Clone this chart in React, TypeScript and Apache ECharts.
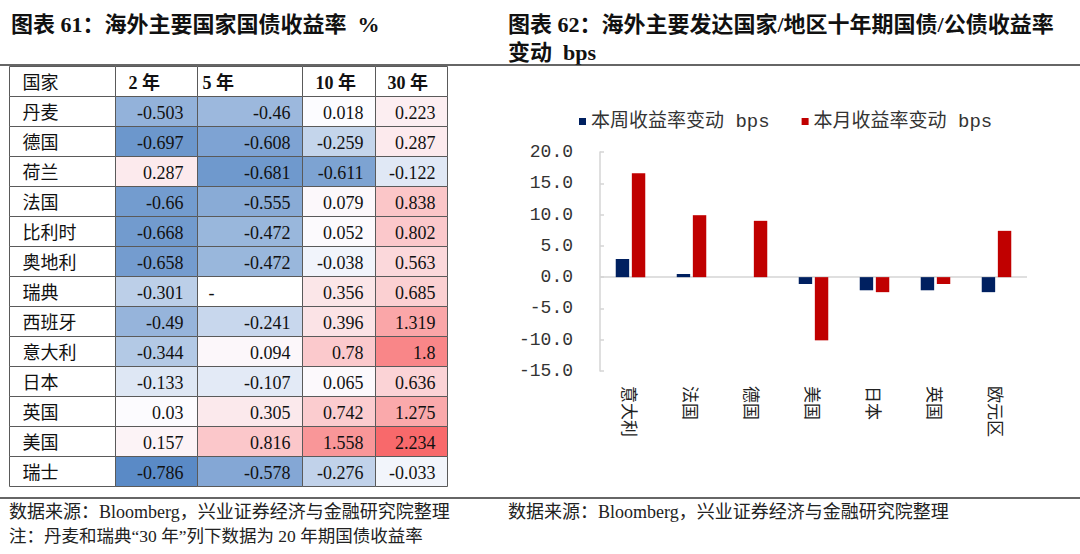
import React, { useEffect, useRef } from 'react';
import * as echarts from 'echarts';

// ---------- data ----------
const countries = ['丹麦', '德国', '荷兰', '法国', '比利时', '奥地利', '瑞典', '西班牙', '意大利', '日本', '英国', '美国', '瑞士'];
const headerFirst = '国家';
const tenorLabels = ['2 年', '5 年', '10 年', '30 年'];
const yield2y = [-0.503, -0.697, 0.287, -0.66, -0.668, -0.658, -0.301, -0.49, -0.344, -0.133, 0.03, 0.157, -0.786];
const yield5y = [-0.46, -0.608, -0.681, -0.555, -0.472, -0.472, null, -0.241, 0.094, -0.107, 0.305, 0.816, -0.578];
const yield10y = [0.018, -0.259, -0.611, 0.079, 0.052, -0.038, 0.356, 0.396, 0.78, 0.065, 0.742, 1.558, -0.276];
const yield30y = [0.223, 0.287, -0.122, 0.838, 0.802, 0.563, 0.685, 1.319, 1.8, 0.636, 1.275, 2.234, -0.033];

const barCategories = ['意大利', '法国', '德国', '美国', '日本', '英国', '欧元区'];
const weeklyChange = [2.9, 0.5, 0.0, -1.1, -2.1, -2.1, -2.4];
const monthlyChange = [16.6, 9.9, 9.0, -10.1, -2.4, -1.1, 7.4];
const seriesNames = ['本周收益率变动 bps', '本月收益率变动 bps'];
const barAxisMin = -15;
const barAxisMax = 20;
const barAxisInterval = 5;

const leftTitle = '图表 61：海外主要国家国债收益率  %';
const rightTitle1 = '图表 62：海外主要发达国家/地区十年期国债/公债收益率';
const rightTitle2 = '变动  bps';
const sourceText = '数据来源：Bloomberg，兴业证券经济与金融研究院整理';
const noteText = '注：丹麦和瑞典“30 年”列下数据为 20 年期国债收益率';

// ---------- layout / style ----------
const colWidths = [106, 82, 105, 73, 72];
const headerPad = [13, 13, 5, 13, 12];
const numPadRight = [0, 14, 12, 12, 12];
const SERIF = '"Liberation Serif", "Noto Sans CJK SC", serif';
const MONO = '"Liberation Mono", "Noto Sans CJK SC", monospace';
const LOW = [90, 138, 198];
const MID = [252, 252, 255];
const HIGH = [248, 105, 107];

const yieldCols = [yield2y, yield5y, yield10y, yield30y];

type Cell = { col: number; row: number; kind: 'header' | 'name' | 'num' | 'empty'; text: string; value: number | null };

function buildCells(): Cell[] {
  const cells: Cell[] = [];
  cells.push({ col: 0, row: 0, kind: 'header', text: headerFirst, value: null });
  tenorLabels.forEach((t, i) => cells.push({ col: i + 1, row: 0, kind: 'header', text: t, value: null }));
  countries.forEach((c, r) => {
    cells.push({ col: 0, row: r + 1, kind: 'name', text: c, value: null });
    yieldCols.forEach((arr, i) => {
      const v = arr[r];
      if (v === null || v === undefined) cells.push({ col: i + 1, row: r + 1, kind: 'empty', text: '-', value: null });
      else cells.push({ col: i + 1, row: r + 1, kind: 'num', text: String(v), value: v });
    });
  });
  return cells;
}

function colorScale(all: number[]) {
  const sorted = [...all].sort((a, b) => a - b);
  const min = sorted[0];
  const max = sorted[sorted.length - 1];
  const n = sorted.length;
  const pos = (n - 1) * 0.5;
  const lo = Math.floor(pos);
  const mid = sorted[lo] + (sorted[Math.min(lo + 1, n - 1)] - sorted[lo]) * (pos - lo);
  const mix = (a: number[], b: number[], t: number) =>
    'rgb(' + a.map((x, i) => Math.round(x + (b[i] - x) * t)).join(',') + ')';
  return (v: number) => {
    if (v <= mid) return mix(MID, LOW, mid === min ? 0 : (mid - v) / (mid - min));
    return mix(MID, HIGH, max === mid ? 0 : (v - mid) / (max - mid));
  };
}

export default function App() {
  const ref = useRef<HTMLDivElement>(null);

  useEffect(() => {
    if (!ref.current) return;
    const chart = echarts.init(ref.current, null, { renderer: 'svg' });
    const cells = buildCells();
    const allVals = cells.filter((c) => c.kind === 'num').map((c) => c.value as number);
    const colorOf = colorScale(allVals);
    const colStarts: number[] = [];
    colWidths.reduce((acc, w) => {
      colStarts.push(acc);
      return acc + w;
    }, 0);
    const totalW = colWidths.reduce((a, b) => a + b, 0);
    const rowLabels = [headerFirst, ...countries];

    const renderItem = (params: any, api: any) => {
      const cell = cells[params.dataIndex];
      const start = colStarts[cell.col];
      const p0 = api.coord([start, cell.row]);
      const p1 = api.coord([start + colWidths[cell.col], cell.row]);
      const h = api.size([0, 1])[1];
      const x = Math.round(p0[0]) + 0.5;
      const w = Math.round(p1[0]) - Math.round(p0[0]);
      const yTop = Math.round(p0[1] - h / 2) + 0.5;
      const hh = Math.round(h);
      const fill = cell.kind === 'num' ? colorOf(cell.value as number) : '#ffffff';
      let tx = x + 13;
      let align = 'left';
      let weight: any = 'normal';
      if (cell.kind === 'header') {
        tx = x + headerPad[cell.col];
        weight = cell.col === 0 ? 'normal' : 'bold';
      } else if (cell.kind === 'num') {
        tx = x + w - numPadRight[cell.col];
        align = 'right';
      } else if (cell.kind === 'empty') {
        tx = x + 11;
      }
      return {
        type: 'group',
        children: [
          {
            type: 'rect',
            shape: { x, y: yTop, width: w, height: hh },
            style: { fill, stroke: '#5a5a5a', lineWidth: 1 },
          },
          {
            type: 'text',
            x: tx,
            y: yTop + hh / 2 + 1,
            style: {
              text: cell.text,
              fill: '#111',
              fontSize: 18,
              fontFamily: SERIF,
              fontWeight: weight,
              align,
              verticalAlign: 'middle',
            },
          },
        ],
      };
    };

    const option: any = {
      animation: false,
      backgroundColor: '#ffffff',
      textStyle: { fontFamily: SERIF },
      grid: [
        { left: 9, top: 66, width: totalW, height: 420 },
        { left: 600, top: 152, right: 53, bottom: 183 },
      ],
      xAxis: [
        { type: 'value', gridIndex: 0, min: 0, max: totalW, show: false },
        {
          type: 'category',
          gridIndex: 1,
          data: barCategories,
          axisLine: { show: false, onZero: false },
          axisTick: { show: false },
          splitLine: { show: false },
          axisLabel: {
            rotate: -90,
            margin: 15,
            fontSize: 17,
            color: '#222',
            fontFamily: '"Noto Sans CJK SC", sans-serif',
            interval: 0,
          },
        },
      ],
      yAxis: [
        { type: 'category', gridIndex: 0, data: rowLabels, inverse: true, show: false },
        {
          type: 'value',
          gridIndex: 1,
          min: barAxisMin,
          max: barAxisMax,
          interval: barAxisInterval,
          axisLine: { show: true, lineStyle: { color: '#d4d4d4', width: 1.5 } },
          axisTick: { show: true, inside: true, length: 4, lineStyle: { color: '#d4d4d4', width: 1.5 } },
          splitLine: { show: false },
          axisLabel: {
            margin: 27,
            fontSize: 18,
            color: '#333',
            fontFamily: MONO,
            formatter: (v: number) => v.toFixed(1),
          },
        },
      ],
      legend: {
        data: seriesNames,
        left: 574,
        top: 107,
        itemWidth: 7,
        itemHeight: 7,
        itemGap: 32,
        icon: 'rect',
        textStyle: { fontSize: 19, fontFamily: MONO, color: '#333' },
      },
      series: [
        {
          type: 'custom',
          name: 'table',
          xAxisIndex: 0,
          yAxisIndex: 0,
          renderItem,
          encode: { x: 0, y: 1 },
          data: cells.map((c) => [c.col, c.row]),
          silent: true,
          z: 2,
        },
        {
          type: 'bar',
          name: seriesNames[0],
          xAxisIndex: 1,
          yAxisIndex: 1,
          data: weeklyChange,
          barWidth: '22%',
          barGap: '20%',
          itemStyle: { color: '#002060' },
          markLine: {
            silent: true,
            symbol: ['none', 'none'],
            label: { show: false },
            lineStyle: { color: '#d4d4d4', width: 1.5, type: 'solid' },
            data: [{ yAxis: 0 }],
            z: 1,
          },
        },
        {
          type: 'bar',
          name: seriesNames[1],
          xAxisIndex: 1,
          yAxisIndex: 1,
          data: monthlyChange,
          barWidth: '22%',
          barGap: '20%',
          itemStyle: { color: '#C00000' },
        },
      ],
      graphic: [
        {
          type: 'text',
          x: 11,
          y: 24,
          style: { text: leftTitle, fontSize: 22, fontWeight: 'bold', fontFamily: SERIF, fill: '#111', verticalAlign: 'middle' },
        },
        {
          type: 'text',
          x: 508,
          y: 24,
          style: { text: rightTitle1, fontSize: 22, fontWeight: 'bold', fontFamily: SERIF, fill: '#111', verticalAlign: 'middle' },
        },
        {
          type: 'text',
          x: 508,
          y: 52,
          style: { text: rightTitle2, fontSize: 22, fontWeight: 'bold', fontFamily: SERIF, fill: '#111', verticalAlign: 'middle' },
        },
        {
          type: 'line',
          shape: { x1: 0, y1: 65, x2: 1080, y2: 65 },
          style: { stroke: '#333', lineWidth: 1.5 },
        },
        {
          type: 'line',
          shape: { x1: 0, y1: 498, x2: 1080, y2: 498 },
          style: { stroke: '#333', lineWidth: 1.5 },
        },
        {
          type: 'text',
          x: 9,
          y: 512,
          style: { text: sourceText, fontSize: 18, fontFamily: SERIF, fill: '#222', verticalAlign: 'middle' },
        },
        {
          type: 'text',
          x: 9,
          y: 536,
          style: { text: noteText, fontSize: 17.5, fontFamily: SERIF, fill: '#222', verticalAlign: 'middle' },
        },
        {
          type: 'text',
          x: 508,
          y: 512,
          style: { text: sourceText, fontSize: 18, fontFamily: SERIF, fill: '#222', verticalAlign: 'middle' },
        },
      ],
    };

    chart.setOption(option);
    return () => chart.dispose();
  }, []);

  return (
    <div
      ref={ref}
      style={{ position: 'absolute', left: 0, top: 0, width: 1080, height: 554, background: '#fff' }}
    />
  );
}
